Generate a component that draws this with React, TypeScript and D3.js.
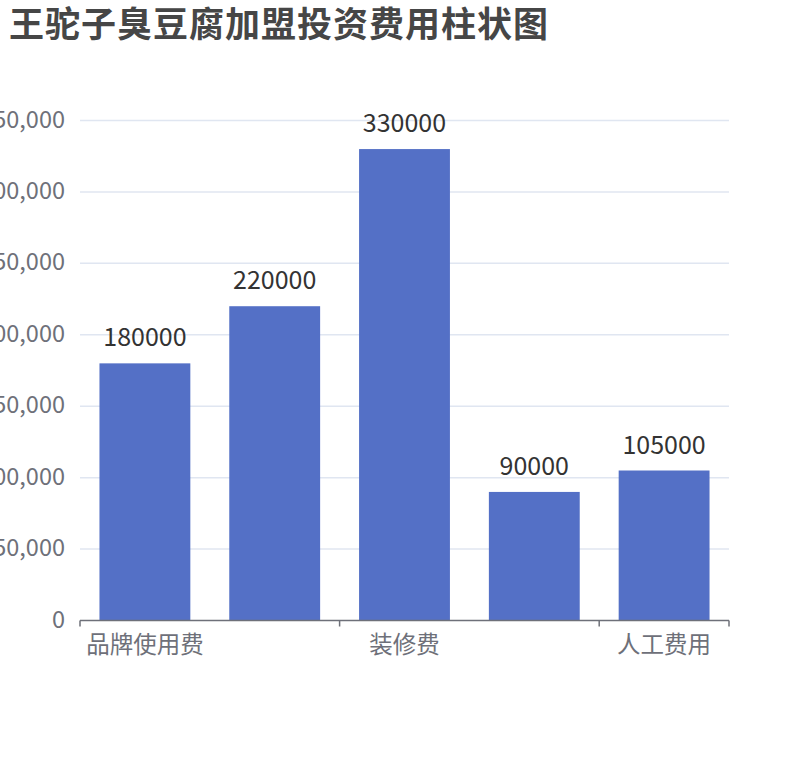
import React from "react";
import * as d3 from "d3";

const title = "王驼子臭豆腐加盟投资费用柱状图";
const categories = ["品牌使用费", "加盟费", "装修费", "设备费", "人工费用"];
const values = [180000, 220000, 330000, 90000, 105000];
const yTicks = [0, 50000, 100000, 150000, 200000, 250000, 300000, 350000];
const labelInterval = 2;

const W = 810;
const H = 760;
const left = 80;
const right = 729;
const top = 120.5;
const bottom = 620.5;
const FONT = "'Noto Sans CJK SC', 'Noto Sans', sans-serif";

export default function App() {
  const x = d3
    .scaleBand<string>()
    .domain(categories)
    .range([left, right])
    .paddingInner(0.3)
    .paddingOuter(0.15);
  const y = d3.scaleLinear().domain([0, 350000]).range([bottom, top]);
  const step = x.step();
  const fmt = d3.format(",");

  const tickXs: number[] = [];
  categories.forEach((c, i) => {
    if (i % labelInterval === 0) tickXs.push((x(c) as number) - (step * 0.3) / 2);
  });
  tickXs.push(right);

  return (
    <svg
      width={W}
      height={H}
      style={{ position: "fixed", left: 0, top: 0, background: "#fff" }}
      fontFamily={FONT}
    >
      <text x={9} y={37} fontSize={35} fontWeight="bold" fill="#464646" textLength={539} lengthAdjust="spacing">
        {title}
      </text>
      {yTicks.map((t) => (
        <g key={t}>
          {t !== 0 && (
            <line x1={left} x2={right} y1={y(t)} y2={y(t)} stroke="#E0E6F1" strokeWidth={1.5} />
          )}
          <text
            x={65}
            y={y(t) - 3}
            textAnchor="end"
            dominantBaseline="central"
            fontSize={23.5}
            fill="#6E7079"
          >
            {fmt(t)}
          </text>
        </g>
      ))}
      {categories.map((c, i) => {
        const bx = x(c) as number;
        const bw = x.bandwidth();
        return (
          <g key={c}>
            <rect x={bx} y={y(values[i])} width={bw} height={bottom - y(values[i])} fill="#5470C6" />
            <text
              x={bx + bw / 2}
              y={y(values[i]) - 17}
              textAnchor="middle"
              fontSize={25}
              fill="#333"
            >
              {values[i]}
            </text>
          </g>
        );
      })}
      <line x1={left} x2={right} y1={bottom} y2={bottom} stroke="#6E7079" strokeWidth={1.5} />
      {tickXs.map((tx, i) => (
        <line key={i} x1={tx} x2={tx} y1={bottom} y2={bottom + 6} stroke="#6E7079" strokeWidth={1.5} />
      ))}
      {categories.map((c, i) =>
        i % labelInterval === 0 ? (
          <text
            key={c}
            x={(x(c) as number) + x.bandwidth() / 2}
            y={653}
            textAnchor="middle"
            fontSize={23.5}
            fill="#6E7079"
          >
            {c}
          </text>
        ) : null
      )}
    </svg>
  );
}
